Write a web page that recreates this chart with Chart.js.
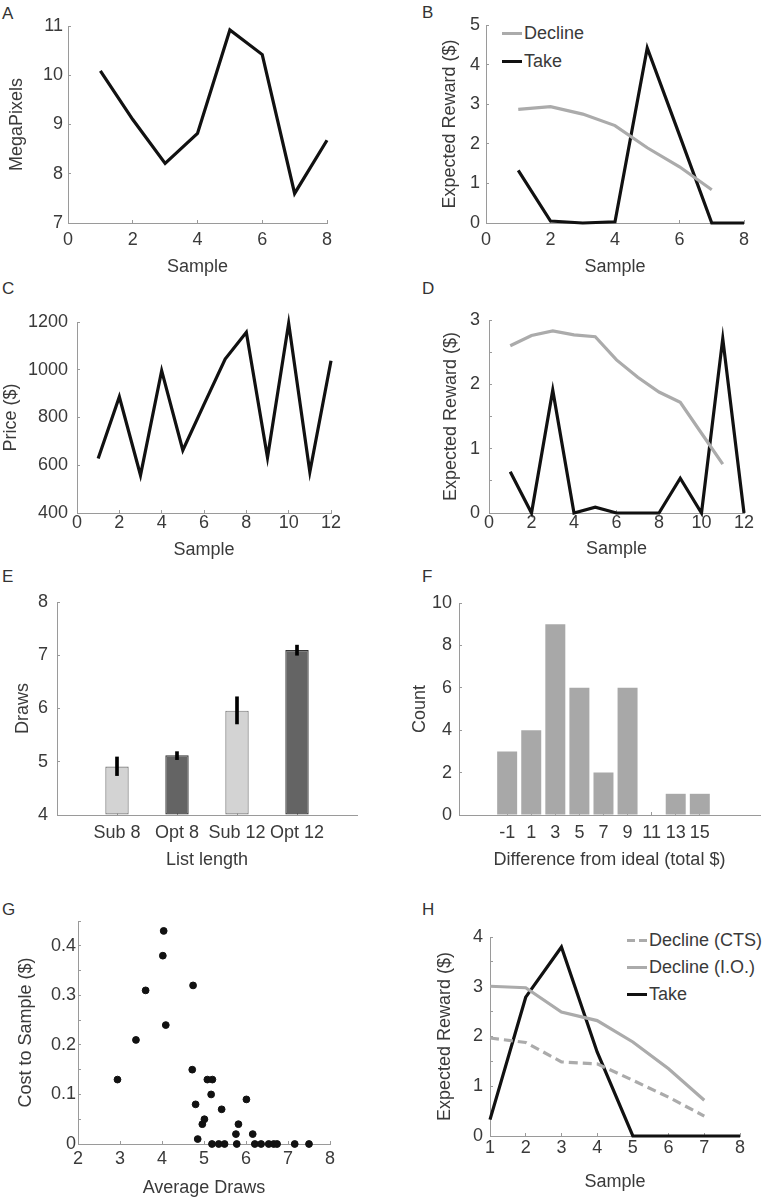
<!DOCTYPE html>
<html>
<head>
<meta charset="utf-8">
<script src="https://cdn.jsdelivr.net/npm/chart.js@4/dist/chart.umd.min.js"></script>
<style>
body { margin: 0; background: #fff; width: 765px; height: 1199px; position: relative; overflow: hidden; font-family: 'Liberation Sans', Arial, sans-serif; color: #3a3a3a; }
canvas { position: absolute; }
.tag { position: absolute; font-size: 17px; line-height: 18px; color: #333; }
.lg { position: absolute; font-size: 18px; line-height: 18px; height: 18px; display: flex; align-items: center; white-space: nowrap; }
.lg i { display: inline-block; width: 20px; height: 3px; margin-right: 2px; }
</style>
</head>
<body>
<div class="tag" style="left:2px;top:5px">A</div>
<div class="tag" style="left:422px;top:4px">B</div>
<div class="tag" style="left:2px;top:280px">C</div>
<div class="tag" style="left:422px;top:280px">D</div>
<div class="tag" style="left:2px;top:568px">E</div>
<div class="tag" style="left:422px;top:568px">F</div>
<div class="tag" style="left:2px;top:901px">G</div>
<div class="tag" style="left:422px;top:901px">H</div>

<div class="lg" style="left:502px;top:24px"><i style="background:#ababab"></i>Decline</div>
<div class="lg" style="left:502px;top:52px"><i style="background:#111"></i>Take</div>

<div class="lg" style="left:627px;top:931px"><i style="background:repeating-linear-gradient(to right,#ababab 0 8px,transparent 8px 12px)"></i>Decline (CTS)</div>
<div class="lg" style="left:627px;top:958px"><i style="background:#ababab"></i>Decline (I.O.)</div>
<div class="lg" style="left:627px;top:985px"><i style="background:#111"></i>Take</div>

<script>
// ---- data ----
const sampleA = [1, 2, 3, 4, 5, 6, 7, 8];
const megaPixels = [10.09, 9.1, 8.21, 8.82, 10.92, 10.42, 7.6, 8.68];

const sampleB = [1, 2, 3, 4, 5, 6, 7, 8];
const declineB = [2.87, 2.94, 2.75, 2.46, 1.90, 1.42, 0.84];
const takeB = [1.33, 0.05, 0, 0.03, 4.42, 2.22, 0, 0];

const sampleC = [1, 2, 3, 4, 5, 6, 7, 8, 9, 10, 11, 12];
const priceC = [628, 887, 558, 996, 663, 855, 1045, 1157, 632, 1195, 572, 1038];

const sampleD = [1, 2, 3, 4, 5, 6, 7, 8, 9, 10, 11, 12];
const declineD = [2.60, 2.76, 2.83, 2.77, 2.74, 2.38, 2.11, 1.88, 1.72, 1.24, 0.76];
const takeD = [0.64, 0, 1.91, 0, 0.09, 0, 0, 0, 0.54, 0, 2.71, 0];

const listLength = ['Sub 8', 'Opt 8', 'Sub 12', 'Opt 12'];
const drawsMean = [4.91, 5.12, 5.96, 7.10];
const drawsLo = [4.74, 5.04, 5.71, 7.00];
const drawsHi = [5.09, 5.19, 6.22, 7.19];

const diffBins = [-1, 1, 3, 5, 7, 9, 11, 13, 15];
const diffCount = [3, 4, 9, 6, 2, 6, 0, 1, 1];

const avgDraws = [2.94, 3.38, 3.61, 4.04, 4.02, 4.09, 4.74, 4.72, 4.80, 4.85, 4.96, 5.01, 5.08, 5.20, 5.17, 5.19,
  5.35, 5.49, 5.42, 5.76, 5.78, 5.82, 6.01, 6.16, 6.21, 6.36, 6.54, 6.66, 6.74, 7.16, 7.50];
const costToSample = [0.13, 0.21, 0.31, 0.43, 0.38, 0.24, 0.32, 0.15, 0.08, 0.01, 0.04, 0.05, 0.13, 0.13, 0.10, 0,
  0, 0, 0.07, 0.02, 0, 0.04, 0.09, 0.02, 0, 0, 0, 0, 0, 0, 0];

const sampleH = [1, 2, 3, 4, 5, 6, 7, 8];
const declineCTS = [1.97, 1.88, 1.49, 1.45, 1.12, 0.78, 0.40];
const declineIO = [3.01, 2.98, 2.49, 2.32, 1.89, 1.35, 0.72];
const takeH = [0.33, 2.79, 3.80, 1.69, 0, 0, 0, 0];

// ---- styling ----
Chart.defaults.font.family = "'Liberation Sans', Arial, sans-serif";
Chart.defaults.font.size = 18;
Chart.defaults.color = '#3a3a3a';
Chart.defaults.animation = false;
Chart.defaults.plugins.legend.display = false;
Chart.defaults.plugins.tooltip.enabled = false;

const AXIS = '#9a9a9a';
const GRAY = '#ababab';
const BLACK = '#111';
const LH = 18 * 1.2;
const TL = -3; // inward tick marks

const pts = (xs, ys) => ys.map((y, i) => ({ x: xs[i], y }));
const line = (xs, ys, color, extra) => Object.assign({
  data: pts(xs, ys), borderColor: color, borderWidth: 3.2, pointRadius: 0,
  fill: false, tension: 0, clip: false
}, extra || {});
const plain = v => String(v);

function makePanel(p, type, datasets, xs, ys) {
  const cv = document.createElement('canvas');
  cv.width = p.box.w;
  cv.height = p.box.h;
  cv.style.left = p.box.x + 'px';
  cv.style.top = p.box.y + 'px';
  document.body.appendChild(cv);

  const xh = p.box.y + p.box.h - p.area.b;
  const yw = p.area.l - p.box.x;

  const x = Object.assign({
    type: 'linear', position: 'bottom', offset: false,
    grid: { drawOnChartArea: false, color: AXIS, tickLength: TL, offset: false },
    border: { color: AXIS, width: 1 },
    title: { display: true, text: p.xTitle, padding: { top: 0, bottom: p.box.y + p.box.h - p.xTitleY - LH / 2 } },
    afterFit: s => { s.height = xh; }
  }, xs);
  x.ticks = Object.assign({ padding: p.xTickOff - LH / 2 - TL, maxRotation: 0, autoSkip: false, callback: plain }, xs.ticks);

  const y = Object.assign({
    type: 'linear', position: 'left',
    grid: { drawOnChartArea: false, color: AXIS, tickLength: TL },
    border: { color: AXIS, width: 1 },
    title: { display: true, text: p.yTitle, padding: { top: p.yTitleX - p.box.x - LH / 2, bottom: 0 } },
    afterFit: s => { s.width = yw; }
  }, ys);
  y.ticks = Object.assign({ padding: p.yGap - TL, autoSkip: false, callback: plain }, ys.ticks);

  return new Chart(cv, {
    type,
    data: { datasets },
    options: {
      responsive: false,
      devicePixelRatio: 1,
      layout: { padding: { left: 0, bottom: 0, top: p.area.t - p.box.y, right: p.box.x + p.box.w - p.area.r } },
      scales: { x, y }
    }
  });
}

const intLabel = v => (Math.abs(v - Math.round(v)) < 1e-6 ? String(Math.round(v)) : '');

// A
makePanel(
  { box: { x: 0, y: 0, w: 380, h: 290 }, area: { l: 68, r: 327, t: 26, b: 223 },
    xTitle: 'Sample', yTitle: 'MegaPixels', xTitleY: 267, yTitleX: 17, xTickOff: 17, yGap: 5 },
  'line', [line(sampleA, megaPixels, BLACK)],
  { min: 0, max: 8, ticks: { stepSize: 2 } },
  { min: 7, max: 11, ticks: { stepSize: 1 } }
);

// B
makePanel(
  { box: { x: 380, y: 0, w: 385, h: 290 }, area: { l: 486, r: 744, t: 25, b: 223 },
    xTitle: 'Sample', yTitle: 'Expected Reward ($)', xTitleY: 267, yTitleX: 450, xTickOff: 17, yGap: 6 },
  'line', [line(sampleB, declineB, GRAY), line(sampleB, takeB, BLACK)],
  { min: 0, max: 8, ticks: { stepSize: 2 } },
  { min: 0, max: 5, ticks: { stepSize: 1 } }
);

// C
makePanel(
  { box: { x: 0, y: 290, w: 380, h: 275 }, area: { l: 77, r: 331, t: 322, b: 513 },
    xTitle: 'Sample', yTitle: 'Price ($)', xTitleY: 550, yTitleX: 11, xTickOff: 10, yGap: 9 },
  'line', [line(sampleC, priceC, BLACK)],
  { min: 0, max: 12, ticks: { stepSize: 2 } },
  { min: 400, max: 1200, ticks: { stepSize: 200 } }
);

// D
makePanel(
  { box: { x: 380, y: 290, w: 385, h: 275 }, area: { l: 489, r: 744, t: 320, b: 513 },
    xTitle: 'Sample', yTitle: 'Expected Reward ($)', xTitleY: 549, yTitleX: 451, xTickOff: 10, yGap: 9 },
  'line', [line(sampleD, declineD, GRAY), line(sampleD, takeD, BLACK)],
  { min: 0, max: 12, ticks: { stepSize: 2 } },
  { min: 0, max: 3, ticks: { stepSize: 0.5, callback: intLabel } }
);

// E
makePanel(
  { box: { x: 0, y: 565, w: 380, h: 315 }, area: { l: 57, r: 357, t: 602, b: 815 },
    xTitle: 'List length', yTitle: 'Draws', xTitleY: 860, yTitleX: 23, xTickOff: 18, yGap: 9 },
  'bar', [
    { data: drawsLo.map((lo, i) => ({ x: i + 1, y: [lo, drawsHi[i]] })), backgroundColor: '#000',
      barThickness: 3, grouped: false, order: 0 },
    { data: drawsMean.map((v, i) => ({ x: i + 1, y: v })), base: 4, grouped: false, order: 1,
      backgroundColor: ['#d3d3d3', '#646464', '#d3d3d3', '#646464'],
      borderColor: ['#777', '#333', '#777', '#333'], borderWidth: 1.2, borderSkipped: false,
      categoryPercentage: 1, barPercentage: 0.39 }
  ],
  { min: 0, max: 5, afterBuildTicks: s => { s.ticks = listLength.map((_, i) => ({ value: i + 1 })); },
    ticks: { callback: v => listLength[v - 1] } },
  { min: 4, max: 8, ticks: { stepSize: 1 } }
);

// F
makePanel(
  { box: { x: 380, y: 565, w: 385, h: 315 }, area: { l: 459, r: 760, t: 603, b: 815 },
    xTitle: 'Difference from ideal (total $)', yTitle: 'Count', xTitleY: 860, yTitleX: 420, xTickOff: 18, yGap: 7 },
  'bar', [
    { data: pts(diffBins, diffCount), backgroundColor: '#a8a8a8', borderWidth: 0,
      categoryPercentage: 1, barPercentage: 0.83 }
  ],
  { min: -5, max: 20, afterBuildTicks: s => { s.ticks = diffBins.map(v => ({ value: v })); } },
  { min: 0, max: 10, ticks: { stepSize: 2 } }
);

// G
makePanel(
  { box: { x: 0, y: 880, w: 380, h: 319 }, area: { l: 78, r: 330, t: 921, b: 1144 },
    xTitle: 'Average Draws', yTitle: 'Cost to Sample ($)', xTitleY: 1188, yTitleX: 26, xTickOff: 15, yGap: 2 },
  'scatter', [
    { data: pts(avgDraws, costToSample), backgroundColor: BLACK, borderColor: BLACK, pointRadius: 3.4, clip: false }
  ],
  { min: 2, max: 8, ticks: { stepSize: 1 } },
  { min: 0, max: 0.45, ticks: { stepSize: 0.05, callback: v => {
      const t = Math.round(v * 100);
      if (t % 10 !== 0) return '';
      return t === 0 ? '0' : (t / 100).toFixed(1);
    } } }
);

// H
makePanel(
  { box: { x: 380, y: 880, w: 385, h: 319 }, area: { l: 490, r: 740, t: 937, b: 1136 },
    xTitle: 'Sample', yTitle: 'Expected Reward ($)', xTitleY: 1182, yTitleX: 445, xTickOff: 12, yGap: 7 },
  'line', [
    line(sampleH, declineCTS, GRAY, { borderDash: [9, 5] }),
    line(sampleH, declineIO, GRAY),
    line(sampleH, takeH, BLACK)
  ],
  { min: 1, max: 8, ticks: { stepSize: 1 } },
  { min: 0, max: 4, ticks: { stepSize: 0.5, callback: intLabel } }
);
</script>
</body>
</html>
